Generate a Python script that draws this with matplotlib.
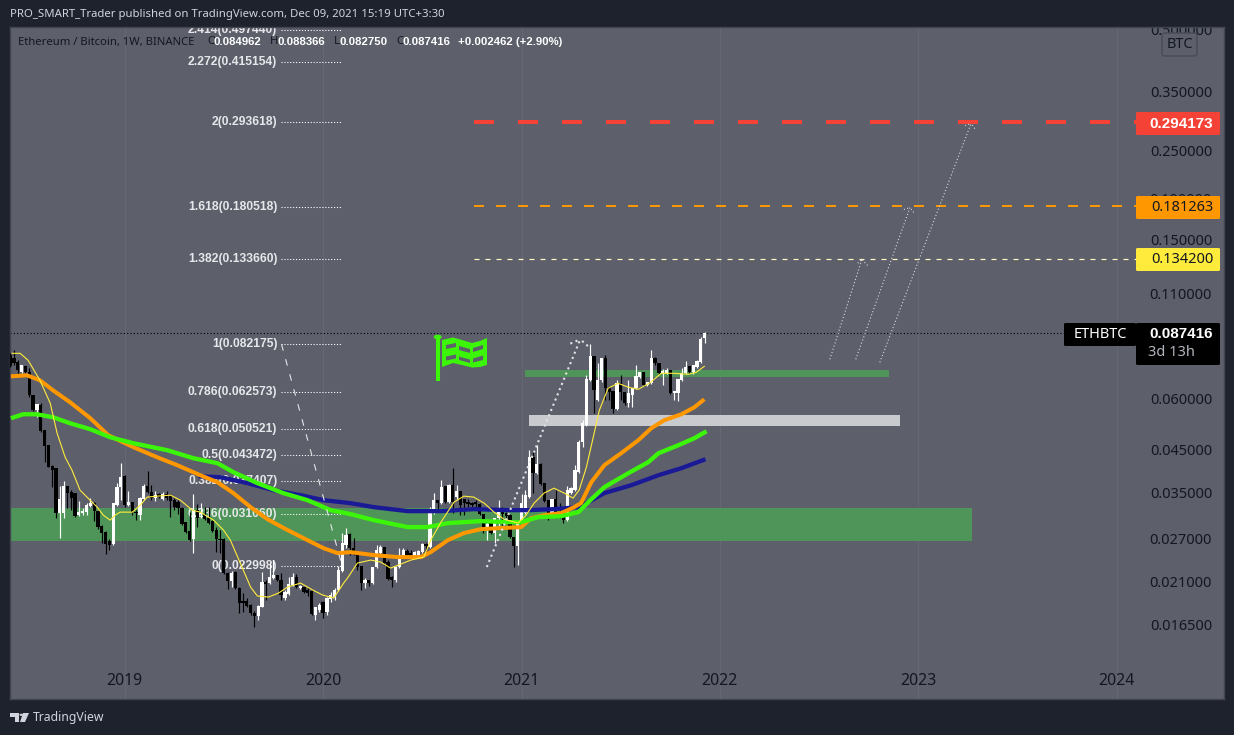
# plot.py
# ETH/BTC weekly chart, redrawn from a TradingView snapshot.
# x axis is the bar number (the time scale is uniform per bar), y axis is log price.

import matplotlib
matplotlib.use('Agg')
import matplotlib.pyplot as plt
from matplotlib.lines import Line2D
from matplotlib.patches import Circle, FancyBboxPatch, Polygon, Rectangle

# ── Colour palette ────────────────────────────────────────────────────────────
OUTER_BG  = '#1e222d'
PANEL_BG  = '#5d606b'
AXIS_TEXT = '#131722'
ORANGE    = '#ff9800'
LIME      = '#3cf60a'
NAVY      = '#1a1a96'
YELLOW    = '#ffeb3b'
RED       = '#f44336'
ZONE_GRN  = '#4f9559'
ZONE_GRY  = '#c9cacd'
FONT      = 'Noto Sans'
BOLD_FONT = 'Liberation Sans'

# ── Candles, one per week ─────────────────────────────────────────────────────
opens = [
    .07709, .07577, .07406, .06993, .07238, .06993, .06130, .05625, .05788, .05016,
    .04602, .04080, .04034, .03117, .03117, .03639, .03516, .03496, .03081, .03117,
    .03135, .03244, .03301, .03153, .02893, .02796, .02655, .02610, .03263, .03618,
    .03853, .03263, .03320, .03135, .03081, .03377, .03639, .03516, .03397, .03476,
    .03377, .03476, .03436, .03358, .03320, .03207, .02960, .02811, .02686, .03171,
    .03099, .03099, .03028, .02977, .02828, .02686, .02686, .02210, .02111, .02223,
    .02028, .01882, .01882, .01840, .01758, .01727, .01819, .02099, .02087, .02148,
    .02185, .02123, .01915, .01959, .02063, .02160, .02028, .02039, .02005, .01993,
    .01737, .01788, .01871, .01768, .01904, .01926, .02005, .02236, .02595, .02764,
    .02550, .02478, .02301, .02087, .02123, .02087, .02288, .02478, .02565, .02354,
    .02160, .02123, .02288, .02422, .02507, .02478, .02422, .02450, .02492, .02610,
    .02565, .03117, .03358, .03301, .03639, .03320, .03660, .03417, .03536, .03377,
    .03320, .03301, .03320, .03282, .03099, .02861, .02944, .02780, .03028, .03135,
    .03117, .03081, .02717, .02580, .02944, .03117, .03417, .04296, .03920, .04128,
    .03702, .03358, .03081, .03377, .03117, .03117, .02994, .03496, .03556, .03942,
    .04682, .05161, .06680, .07665, .05956, .06680, .07577, .06417, .06272, .05657,
    .06566, .06236, .05855, .06130, .06381, .06796, .06993, .06491, .06566, .07577,
    .07363, .06953, .06953, .07074, .06201, .06201, .06680, .06953, .07238, .06993,
    .07196, .07406, .08496,
]
highs = [
    .07798, .07933, .07491, .07279, .07238, .07155, .06130, .05821, .05855, .05016,
    .04602, .04104, .04034, .03639, .03745, .03639, .03556, .03496, .03339, .03207,
    .03301, .03397, .03320, .03153, .02910, .02811, .02686, .03301, .03702, .04151,
    .03875, .03536, .03320, .03171, .03417, .03681, .03966, .03660, .03536, .03496,
    .03516, .03536, .03476, .03397, .03358, .03226, .02960, .03135, .03476, .03282,
    .03301, .03226, .03226, .02994, .02877, .02828, .02702, .02223, .02236, .02236,
    .02039, .01971, .01915, .01850, .01778, .01840, .02223, .02123, .02341, .02381,
    .02185, .02210, .02005, .02160, .02210, .02197, .02063, .02039, .02028, .02005,
    .01819, .01861, .01882, .01926, .01982, .02028, .02301, .02780, .02861, .02780,
    .02702, .02478, .02301, .02148, .02123, .02288, .02595, .02595, .02565, .02381,
    .02172, .02301, .02550, .02550, .02536, .02521, .02507, .02521, .02625, .02625,
    .03226, .03496, .03358, .03766, .03639, .03681, .04034, .03660, .03536, .03377,
    .03377, .03320, .03358, .03301, .03099, .02960, .02944, .03028, .03358, .03226,
    .03135, .03099, .02717, .02960, .03476, .03556, .04472, .04472, .04602, .04151,
    .03702, .03358, .03377, .03556, .03301, .03117, .03639, .03618, .04104, .04736,
    .05311, .06874, .08210, .07665, .07363, .07577, .07709, .06417, .06272, .06680,
    .06874, .06236, .06680, .06381, .07279, .06993, .06993, .06604, .07933, .07621,
    .07363, .07114, .07155, .07074, .06272, .06718, .07155, .07448, .07238, .07279,
    .07491, .08547, .08837,
]
lows = [
    .07196, .07279, .06874, .06953, .06953, .06060, .05593, .05404, .04959, .04175,
    .04057, .03618, .03028, .02702, .03028, .03207, .03171, .03046, .03063, .03081,
    .03081, .03226, .02977, .02844, .02625, .02464, .02521, .02595, .03244, .03358,
    .03226, .03244, .03081, .02994, .02994, .03358, .03496, .03358, .03339, .03397,
    .03358, .03358, .03046, .03171, .03099, .02910, .02780, .02655, .02478, .02877,
    .03028, .02994, .02927, .02796, .02492, .02478, .02197, .02016, .02039, .02016,
    .01758, .01768, .01819, .01737, .01621, .01688, .01819, .01893, .02075, .02136,
    .02111, .01893, .01893, .01948, .02051, .02028, .02016, .01971, .01937, .01737,
    .01688, .01768, .01708, .01737, .01871, .01893, .01993, .02223, .02550, .02450,
    .02450, .02248, .02005, .02028, .02051, .02075, .02275, .02464, .02314, .02123,
    .02039, .02099, .02275, .02408, .02436, .02408, .02408, .02436, .02478, .02492,
    .02550, .03099, .03171, .03282, .03301, .03301, .03117, .03377, .03081, .03081,
    .03226, .03226, .03226, .03081, .02780, .02670, .02764, .02625, .02877, .02910,
    .02994, .02702, .02288, .02314, .02927, .03099, .03397, .03496, .03900, .03660,
    .03320, .02994, .03063, .03028, .03028, .02944, .02977, .03476, .03536, .03920,
    .04550, .05132, .06642, .05529, .05922, .06604, .05956, .05956, .05529, .05625,
    .05956, .05788, .05722, .05722, .06344, .06757, .06454, .06454, .06529, .07279,
    .06913, .06491, .06913, .06165, .05956, .05922, .06642, .06913, .06953, .06913,
    .07155, .07363, .08275,
]
closes = [
    .07238, .07363, .07074, .07279, .06993, .06130, .05625, .05821, .04987, .04576,
    .04057, .03988, .03117, .03377, .03639, .03496, .03397, .03063, .03135, .03153,
    .03263, .03301, .03153, .02877, .02780, .02610, .02595, .03301, .03618, .03831,
    .03263, .03320, .03135, .03117, .03397, .03639, .03516, .03397, .03456, .03417,
    .03476, .03397, .03339, .03226, .03207, .02927, .02796, .02670, .03171, .03028,
    .03117, .03011, .02944, .02811, .02686, .02670, .02210, .02111, .02210, .02028,
    .01861, .01861, .01829, .01758, .01727, .01829, .02099, .02075, .02160, .02185,
    .02123, .01948, .01982, .02075, .02160, .02039, .02051, .01982, .01971, .01748,
    .01819, .01840, .01758, .01915, .01948, .02005, .02248, .02625, .02748, .02550,
    .02464, .02288, .02087, .02123, .02087, .02288, .02521, .02565, .02341, .02136,
    .02123, .02288, .02450, .02521, .02450, .02422, .02492, .02507, .02610, .02580,
    .03117, .03358, .03301, .03618, .03320, .03660, .03320, .03536, .03263, .03301,
    .03282, .03263, .03282, .03099, .02861, .02927, .02780, .03028, .03171, .03099,
    .03063, .02717, .02580, .02960, .03301, .03456, .04296, .03920, .04128, .03681,
    .03339, .03117, .03377, .03099, .03081, .02994, .03556, .03597, .03988, .04682,
    .05220, .06718, .07665, .06308, .06680, .07577, .06381, .06236, .05657, .06566,
    .06236, .05855, .06201, .06381, .06835, .06993, .06491, .06604, .07577, .07363,
    .06953, .07033, .07074, .06201, .06272, .06718, .06953, .07196, .06993, .07279,
    .07448, .08449, .08742,
]

ma_thin_bars = [
    .5, 2.6, 4.7, 7.8, 10.5, 12.3, 14.4, 16.2, 18.3, 20.4, 22.8, 24.4, 26.2, 27.5, 28.8,
    32, 34.1, 35.9, 38.5, 42, 44.6, 47.7, 49.8, 53.3, 55.9, 57.7, 60.3, 63, 64.8, 67.7,
    70.3, 72.7, 76.1, 79.3, 81.9, 84.8, 87.4, 88.4, 91, 94.5, 97.1, 99.7, 105, 108.4,
    110.2, 112.9, 116.3, 118.9, 121.5, 124.2, 126.8, 129.4, 133.1, 135.2, 137.3, 139.9,
    142.5, 145.2, 147.5, 149.1, 151, 152.8, 154.4, 156.7, 159.3, 162, 164.6, 167.5,
    170.6, 174, 177.7, 179.8, 181.9,
]
ma_thin = [
    .07798, .07798, .07491, .06680, .05855, .04930, .04296, .03988, .03556, .03397,
    .03226, .03081, .02994, .03081, .03135, .03135, .03263, .03417, .03436, .03456,
    .03358, .03171, .03135, .02994, .02828, .02670, .02341, .02039, .01937, .01926,
    .01970, .02039, .02087, .02005, .01948, .01915, .02087, .02148, .02341, .02381,
    .02354, .02274, .02381, .02422, .02670, .02960, .03320, .03436, .03417, .03301,
    .03135, .03011, .02944, .03081, .03301, .03496, .03597, .03496, .03397, .03556,
    .04057, .04818, .05625, .06381, .06566, .06417, .06344, .06566, .06953, .06953,
    .06913, .06993, .07237,
]
ma_orange_bars = [
    .2, 4.4, 7.8, 11.2, 15.7, 21, 25.7, 32.3, 38.5, 43.8, 49.8, 54.3, 58.5, 63, 67.4,
    72.7, 77.9, 82.1, 85.8, 89.2, 95.3, 101.6, 107.6, 110.2, 114.7, 118.9, 123.4, 128.6,
    133.9, 136.5, 140, 144.4, 147.8, 149.6, 152.3, 155.7, 160.1, 164.6, 168, 171.4,
    175.9, 179.3, 181.9,
]
ma_orange = [
    .06835, .06874, .06680, .06308, .05888, .05372, .04874, .04550, .04296, .04104,
    .03875, .03723, .03496, .03226, .03011, .02828, .02670, .02550, .02478, .02492,
    .02450, .02422, .02422, .02492, .02670, .02780, .02844, .02861, .02877, .03028,
    .03081, .03117, .03226, .03301, .03723, .04104, .04396, .04736, .05074, .05311,
    .05497, .05722, .05990,
]
ma_green_bars = [
    .2, 3.4, 7, 11.2, 15.7, 21, 26.2, 32.3, 41.2, 48, 54.3, 58.5, 64.8, 71.6, 77.9, 84,
    89.2, 95.3, 104.2, 109.4, 114.7, 123.4, 130.5, 133.9, 138.3, 144.4, 148.9, 151.5,
    155.7, 162, 167.2, 169.9, 175.1, 179.3, 182.5,
]
ma_green = [
    .05372, .05497, .05497, .05404, .05220, .05045, .04818, .04655, .04472, .04272,
    .04151, .03943, .03702, .03496, .03358, .03171, .03099, .02994, .02877, .02877,
    .02944, .02977, .02960, .02960, .03046, .03063, .03135, .03320, .03618, .03920,
    .04175, .04396, .04602, .04791, .04987,
]
ma_navy_bars = [
    49.3, 55.1, 62.2, 69, 76.1, 82.1, 89.2, 95.3, 104.2, 112.9, 121.5, 130.5, 135.7,
    142.5, 148.9, 151.5, 155.7, 162.8, 169.9, 175.9, 182.2,
]
ma_navy = [
    .03853, .03831, .03702, .03556, .03456, .03358, .03301, .03226, .03153, .03153,
    .03189, .03171, .03171, .03189, .03226, .03320, .03496, .03660, .03875, .04034,
    .04247,
]

# ── Drawings ──────────────────────────────────────────────────────────────────
year_labels = ['2019', '2020', '2021', '2022', '2023', '2024']
year_bars   = [30, 82, 134, 186, 238, 290]
price_ticks = [.5, .35, .25, .19, .15, .11, .08, .06, .045, .035, .027, .021, .0165]

fib_ratios = ['2.414', '2.272', '2', '1.618', '1.382', '1', '0.786', '0.618', '0.5',
              '0.382', '0.236', '0']
fib_prices = [.497440, .415154, .293618, .180518, .133660, .082175, .062573, .050521,
              .043472, .037407, .031060, .022998]

target_prices = [.294173, .181263, .134200]
last_price = .087416

zone_big   = (-0.05, 252.0, .02655, .03207)
zone_upper = (135.0, 230.2, .06796, .07074)
zone_grey  = (136.0, 233.1, .05132, .05466)

# rising forecast arrows: (start bar, start price, tip bar, tip price, wing bars, wing prices)
forecast_arrows = [
    (214.8, .07534, 223.2, .1336, (222.1, 224.7), (.1308, .1291)),
    (221.6, .07534, 235.8, .1800, (234.2, 236.8), (.1780, .1749)),
    (227.9, .07406, 251.8, .2914, (250.2, 252.8), (.2881, .2831)),
]
# dotted arrow of the 2021 leg
leg_arrow = (124.9, .02288, 149.4, .08449, (146.8, 151.4), (.08244, .08130))


def fx(px):
    return px / 1234


def fy(py):
    return 1 - py / 735


def dashed_line(ax, bar0, bar1, price, color, lw_px, on_px, off_px, zorder=2):
    # dash lengths in matplotlib are multiples of the line width
    ax.plot([bar0, bar1], [price, price], color=color, lw=lw_px * 0.72,
            dashes=(on_px / lw_px, off_px / lw_px), dash_capstyle='butt', zorder=zorder)


def arrow(ax, spec, color, lw, dashes):
    bar0, price0, tip_bar, tip_price, wing_bars, wing_prices = spec
    kw = dict(color=color, lw=lw, dashes=dashes, zorder=6)
    ax.plot([bar0, tip_bar], [price0, tip_price], **kw)
    for wb, wp in zip(wing_bars, wing_prices):
        ax.plot([wb, tip_bar], [wp, tip_price], **kw)


def price_box(fig, x0, y0, x1, y1, color):
    fig.add_artist(FancyBboxPatch((fx(x0), fy(y1)), fx(x1 - x0), (y1 - y0) / 735,
                                  boxstyle='round,pad=0,rounding_size=0.0015',
                                  transform=fig.transFigure, fc=color, ec='none', zorder=5))


def fig_text(fig, px, py, s, **kw):
    kw.setdefault('family', FONT)
    kw.setdefault('va', 'center')
    kw.setdefault('zorder', 6)
    return fig.text(fx(px), fy(py), s, **kw)


def draw_flag(fig):
    # little chequered flag icon on the chart: green cloth with grey cells cut out
    def poly(points, color):
        fig.add_artist(Polygon([(fx(x), fy(y)) for x, y in points],
                               transform=fig.transFigure, fc=color, ec='none'))

    fig.add_artist(Line2D([fx(437.7)] * 2, [fy(335), fy(381)], lw=2.9, color=LIME,
                          transform=fig.transFigure, solid_capstyle='butt'))
    fig.add_artist(Circle((fx(437.7), fy(337)), 0.0032, transform=fig.transFigure,
                          fc=LIME, ec='none'))
    poly([(442, 340), (453, 337.5), (462, 340), (472, 343), (480, 341), (487, 338),
          (487, 365), (480, 367), (472, 367.5), (462, 365), (453, 363), (442, 367)], LIME)
    cells = [
        [(446, 345), (456, 343), (456, 347), (446, 349)],
        [(459, 346), (470, 349), (470, 353), (459, 350)],
        [(473, 348), (483, 345), (483, 349), (473, 352)],
        [(446, 356.5), (456, 354.5), (456, 358.5), (446, 360.5)],
        [(459, 356.5), (470, 359.5), (470, 363), (459, 360)],
        [(473, 358.5), (483, 355.5), (483, 360), (473, 362.5)],
    ]
    for cell in cells:
        poly(cell, PANEL_BG)


def draw_logo(fig):
    shapes = [
        [(10, 713), (19, 713), (19, 722), (15, 722), (15, 716.5), (10, 716.5)],
        [(23, 713), (29, 713), (25, 722), (20, 722)],
    ]
    for shape in shapes:
        fig.add_artist(Polygon([(fx(x), fy(y)) for x, y in shape],
                               transform=fig.transFigure, fc='#d1d4dc', ec='none'))
    fig.add_artist(Circle((fx(21.3), fy(714.8)), 0.0015, transform=fig.transFigure,
                          fc='#d1d4dc', ec='none'))


def main():
    fig = plt.figure(figsize=(12.34, 7.35), dpi=100, facecolor=OUTER_BG)
    ax = fig.add_axes([fx(10), fy(699), 1214 / 1234, 672 / 735], facecolor=PANEL_BG)

    ax.set_yscale('log')
    ax.set_xlim(-0.05, 318.1)
    ax.set_ylim(.01073, .5071)

    # Axes styling
    ax.set_xticks(year_bars)
    ax.set_xticklabels(year_labels, family=FONT, fontsize=11.4, color=AXIS_TEXT)
    ax.yaxis.tick_right()
    ax.set_yticks(price_ticks)
    ax.set_yticks([], minor=True)
    ax.set_yticklabels(['%.6f' % p for p in price_ticks], family=FONT, fontsize=10.5,
                       color=AXIS_TEXT)
    ax.tick_params(axis='x', length=0, pad=-18.5)
    ax.tick_params(axis='y', length=0, pad=-8.6)
    for lab in ax.get_yticklabels():
        lab.set_ha('right')
        lab.set_clip_on(True)
        lab.set_clip_box(ax.bbox)
    ax.grid(axis='x', color='#666974', lw=0.7)
    ax.set_axisbelow(True)
    for spine in ax.spines.values():
        spine.set_edgecolor('#434651')
        spine.set_linewidth(1)

    # Zones
    for (b0, b1, p0, p1), color in [(zone_big, ZONE_GRN), (zone_upper, ZONE_GRN),
                                    (zone_grey, ZONE_GRY)]:
        ax.add_patch(Rectangle((b0, p0), b1 - b0, p1 - p0, fc=color, ec='none', zorder=1))

    # Fib levels, the candles go over them
    for ratio, price in zip(fib_ratios, fib_prices):
        ax.plot([71.1, 86.9], [price, price], color='white', lw=0.75, dashes=(1.1, 1.7), zorder=2)
        ax.text(70, price, '%s(%.6f)' % (ratio, price), family=BOLD_FONT, fontsize=8.7,
                fontweight='bold', color='#e6e7ea', ha='right', va='center', zorder=2,
                clip_on=True)
    ax.plot([71.1, 87], [fib_prices[5], fib_prices[-1]], color='#e4e5e8', lw=0.8,
            dashes=(6, 8), zorder=6)

    # Target lines
    dashed_line(ax, 121.5, 296, target_prices[0], RED, 4, 20, 24)
    dashed_line(ax, 121.5, 296, target_prices[1], ORANGE, 2, 10, 12)
    dashed_line(ax, 121.5, 296, target_prices[2], '#fff9c4', 1.2, 5, 6)

    # Candles
    bars = list(range(len(opens)))
    colors = ['white' if c >= o else 'black' for o, c in zip(opens, closes)]
    ax.vlines(bars, lows, highs, colors=colors, lw=0.85, zorder=3)
    ax.bar(bars, [abs(c - o) for o, c in zip(opens, closes)],
           bottom=[min(o, c) for o, c in zip(opens, closes)], width=0.85,
           color=colors, linewidth=0, zorder=3)

    # Moving averages
    ax.plot(ma_navy_bars, ma_navy, color=NAVY, lw=3.1, zorder=4, solid_capstyle='butt')
    ax.plot(ma_orange_bars, ma_orange, color=ORANGE, lw=2.9, zorder=4.1, solid_capstyle='butt')
    ax.plot(ma_green_bars, ma_green, color=LIME, lw=3.1, zorder=4.2, solid_capstyle='butt')
    ax.plot(ma_thin_bars, ma_thin, color=YELLOW, lw=0.8, zorder=4.3)

    # Last price line
    ax.plot([-0.05, 316], [last_price, last_price], color='black', lw=0.8, dashes=(1, 2), zorder=2.5)

    # Arrows
    arrow(ax, leg_arrow, '#e2e3e6', 1.5, (1, 1.7))
    for spec in forecast_arrows:
        arrow(ax, spec, '#d8d9dd', 0.8, (1, 2))

    # Right-hand price tags
    price_box(fig, 1136, 112, 1220, 135, RED)
    fig_text(fig, 1213, 123.5, '%.6f' % target_prices[0], family=BOLD_FONT, color='white',
             ha='right', fontsize=11, fontweight='bold')
    price_box(fig, 1136, 196, 1220, 219, ORANGE)
    fig_text(fig, 1213, 207.5, '%.6f' % target_prices[1], color=AXIS_TEXT, ha='right', fontsize=10.5)
    price_box(fig, 1136, 248, 1220, 271, '#ffeb3b')
    fig_text(fig, 1213, 259.5, '%.6f' % target_prices[2], color=AXIS_TEXT, ha='right', fontsize=10.5)
    price_box(fig, 1064, 323, 1136, 346, 'black')
    price_box(fig, 1136, 323, 1220, 365, 'black')
    fig_text(fig, 1100, 334.5, 'ETHBTC', color='white', ha='center', fontsize=10.5)
    fig_text(fig, 1213, 334.5, '%.6f' % last_price, family=BOLD_FONT, color='white', ha='right',
             fontsize=11, fontweight='bold')
    fig_text(fig, 1148, 353, '3d 13h', color='#b2b5be', ha='left', fontsize=10.5)

    # BTC badge
    fig.add_artist(FancyBboxPatch((fx(1162), fy(56)), 35 / 1234, 23 / 735,
                                  boxstyle='round,pad=0,rounding_size=0.003',
                                  transform=fig.transFigure, fc=PANEL_BG, ec='#484b56',
                                  lw=1, zorder=5))
    fig_text(fig, 1179.5, 44.5, 'BTC', color=AXIS_TEXT, ha='center', fontsize=10.5)

    # Header and legend
    fig_text(fig, 9.5, 15, 'PRO_SMART_Trader published on TradingView.com, Dec 09, 2021 15:19 UTC+3:30',
             color='#d1d4dc', fontsize=8.18)
    fig_text(fig, 18, 42, 'Ethereum / Bitcoin, 1W, BINANCE', color=AXIS_TEXT, fontsize=8.1)
    for px, letter in [(207, 'O'), (270, 'H'), (334, 'L'), (396, 'C')]:
        fig_text(fig, px, 42, letter, color=AXIS_TEXT, fontsize=8.1)
    for px, value in [(214, '0.084962'), (277, '0.088366'), (339, '0.082750'), (402, '0.087416'),
                      (458, '+0.002462 (+2.90%)')]:
        fig_text(fig, px, 42, value, family=BOLD_FONT, color='white', fontsize=8.2, fontweight='bold')

    draw_flag(fig)
    draw_logo(fig)
    fig_text(fig, 33, 717, 'TradingView', color='#d1d4dc', fontsize=8.8)

    fig.savefig('out.png', dpi=100, facecolor=OUTER_BG)
    plt.close(fig)


if __name__ == '__main__':
    main()
